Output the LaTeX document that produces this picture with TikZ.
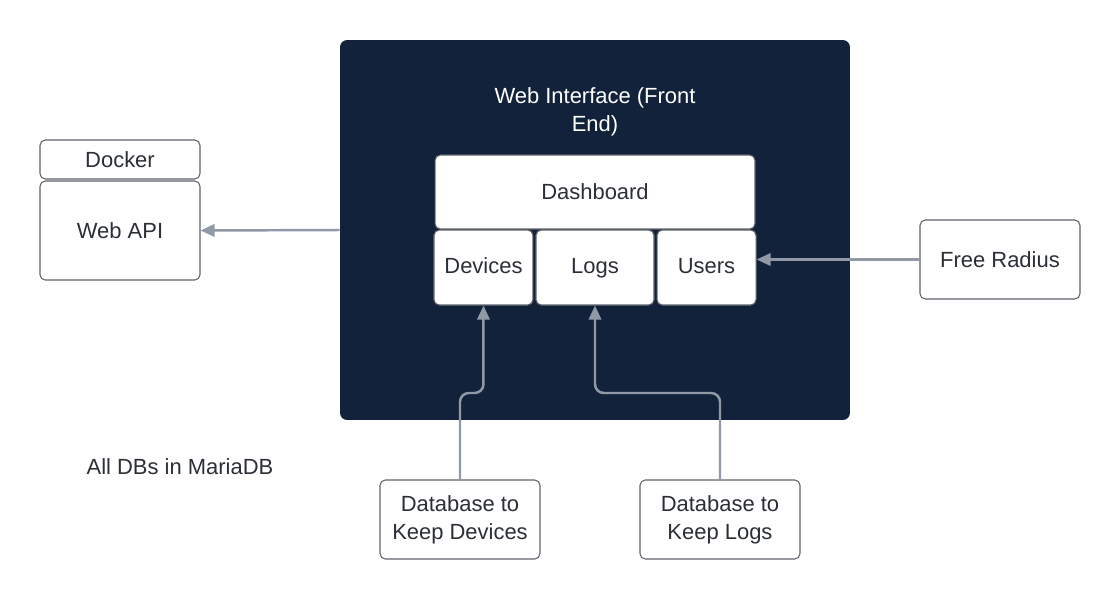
\documentclass[tikz,border=0pt]{standalone}
\usepackage{fontspec}
\setmainfont{Liberation Sans}
\usetikzlibrary{arrows.meta,positioning}

\definecolor{navy}{HTML}{13223B}
\definecolor{wire}{HTML}{9099A5}
\definecolor{edge}{HTML}{5F636B}
\definecolor{ink}{HTML}{2B2F36}

\begin{document}
\begin{tikzpicture}[x=0.02cm,y=-0.02cm,node distance=2pt,
    font=\fontsize{12.5}{16}\selectfont,
    box/.style = {draw=edge, fill=white, text=ink, rounded corners=3pt, inner sep=0pt, align=center, line width=0.6pt},
    tab/.style = {box, minimum height=1.5cm, text height=1.6ex, text depth=0.3ex},
    arr/.style = {draw=wire, line width=1.4pt, -{Triangle[length=8pt,width=7pt]}}]
    \useasboundingbox (0,0) rectangle (1120,600);
    % front end panel
    \node[fill=navy, rounded corners=4pt, minimum width=10.2cm, minimum height=7.6cm] (frontend) at (595,230) {};
    \node[text=white, align=center] (title) at (595,112) {Web Interface (Front\\End)};
    \node[box, minimum width=6.4cm, minimum height=1.48cm] (dash) at (595,192) {Dashboard};
    \node[tab, minimum width=2.36cm] (logs) at (595,267.5) {Logs};
    \node[tab, minimum width=1.98cm] (devices) [left=0.04cm of logs] {Devices};
    \node[tab, minimum width=1.98cm] (users) [right=0.04cm of logs] {Users};
    % outside
    \node[box, minimum width=3.2cm, minimum height=0.78cm] (docker) at (120,159.5) {Docker};
    \node[box, minimum width=3.2cm, minimum height=1.98cm] (webapi) at (120,230.5) {Web API};
    \node[box, minimum width=3.2cm, minimum height=1.58cm] (radius) at (1000,259.5) {Free Radius};
    \node[box, minimum width=3.2cm, minimum height=1.58cm] (dbdev) at (460,519.5) {Database to\\Keep Devices};
    \node[box, minimum width=3.2cm, minimum height=1.58cm] (dblogs) at (720,519.5) {Database to\\Keep Logs};
    \node[text=ink] (note) at (180,467) {All DBs in MariaDB};
    \coordinate (bend) at (0,393);
    % connectors
    \draw[arr] (frontend.west) -- (webapi.east);
    \draw[arr] (radius.west) -- (radius.west -| users.east);
    \draw[arr, rounded corners=5pt] (dbdev.north) -- (dbdev.north |- bend) -| (devices.south);
    \draw[arr, rounded corners=5pt] (dblogs.north) -- (dblogs.north |- bend) -| (logs.south);
\end{tikzpicture}
\end{document}
